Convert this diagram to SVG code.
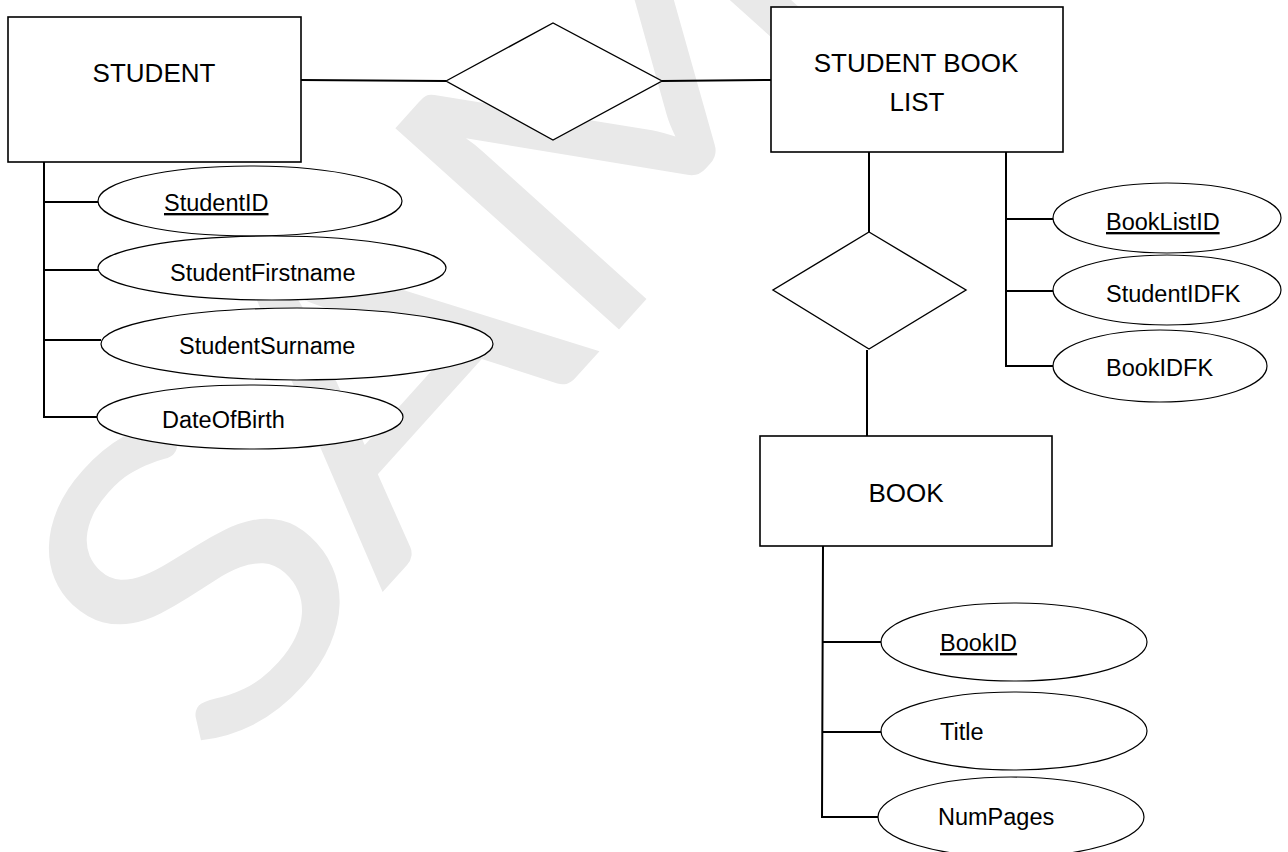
<svg xmlns="http://www.w3.org/2000/svg" width="1288" height="852" viewBox="0 0 1288 852">
<style>
.box{fill:#fff;stroke:#000;stroke-width:1.6}
.dia{fill:#fff;stroke:#000;stroke-width:1.4}
.ell{fill:#fff;stroke:#000;stroke-width:1.2}
.ln{stroke:#000;stroke-width:2;fill:none}
.ttl{font-family:"Liberation Sans",Arial,sans-serif;font-size:26px;fill:#000;text-anchor:middle}
.att{font-family:"Liberation Sans",Arial,sans-serif;font-size:23.5px;fill:#000}
.wm{font-family:Lato,"Open Sans",sans-serif;font-size:420px;fill:#e9e9e9}
</style>
<rect width="1288" height="852" fill="#fff"/>
<g id="watermark" transform="translate(217,776) rotate(-48) scale(1.15,1)">
<text class="wm" x="0 214 484 882 1123 1319" y="0">SAMPLE</text>
</g>
<g id="connectors">
<line class="ln" x1="301" y1="80" x2="446" y2="81"/>
<line class="ln" x1="662" y1="81" x2="771" y2="80"/>
<line class="ln" x1="869" y1="152" x2="869" y2="232"/>
<line class="ln" x1="867" y1="350" x2="867" y2="436"/>
<path class="ln" d="M44 162 V418 M43 202 H98 M43 270 H98 M43 340 H101 M43 417 H97"/>
<path class="ln" d="M1006 152 V367 M1005 219 H1053 M1005 291 H1053 M1005 366 H1053"/>
<path class="ln" d="M823 546 L822 818 M822 642 H881 M822 732 H881 M821 817 H878"/>
</g>
<g id="student">
<rect class="box" x="8" y="17" width="293" height="145"/>
<text class="ttl" x="154" y="82">STUDENT</text>
</g>
<g id="rel1">
<polygon class="dia" points="446,81 553,23 662,81 553,140"/>
</g>
<g id="studentbooklist">
<rect class="box" x="771" y="7" width="292" height="145"/>
<text class="ttl" x="916" y="72">STUDENT BOOK</text>
<text class="ttl" x="917" y="111">LIST</text>
</g>
<g id="rel2">
<polygon class="dia" points="869,232 966,290 869,349 773,290"/>
</g>
<g id="book">
<rect class="box" x="760" y="436" width="292" height="110"/>
<text class="ttl" x="906" y="502">BOOK</text>
</g>
<g id="attr-studentid">
<ellipse class="ell" cx="250" cy="201" rx="152" ry="35"/>
<text class="att" x="164" y="211" text-decoration="underline">StudentID</text>
</g>
<g id="attr-studentfirstname">
<ellipse class="ell" cx="272" cy="268" rx="174" ry="32"/>
<text class="att" x="170" y="281">StudentFirstname</text>
</g>
<g id="attr-studentsurname">
<ellipse class="ell" cx="297" cy="344" rx="196" ry="36"/>
<text class="att" x="179" y="354">StudentSurname</text>
</g>
<g id="attr-dateofbirth">
<ellipse class="ell" cx="250" cy="417" rx="153" ry="32"/>
<text class="att" x="162" y="428">DateOfBirth</text>
</g>
<g id="attr-booklistid">
<ellipse class="ell" cx="1167" cy="218" rx="114" ry="35"/>
<text class="att" x="1106" y="230" text-decoration="underline">BookListID</text>
</g>
<g id="attr-studentidfk">
<ellipse class="ell" cx="1167" cy="290" rx="114" ry="35"/>
<text class="att" x="1106" y="302">StudentIDFK</text>
</g>
<g id="attr-bookidfk">
<ellipse class="ell" cx="1160" cy="366" rx="107" ry="36"/>
<text class="att" x="1106" y="376">BookIDFK</text>
</g>
<g id="attr-bookid">
<ellipse class="ell" cx="1014" cy="642" rx="133" ry="39"/>
<text class="att" x="940" y="651" text-decoration="underline">BookID</text>
</g>
<g id="attr-title">
<ellipse class="ell" cx="1014" cy="731" rx="133" ry="39"/>
<text class="att" x="940" y="740">Title</text>
</g>
<g id="attr-numpages">
<ellipse class="ell" cx="1011" cy="817" rx="133" ry="40"/>
<text class="att" x="938" y="825">NumPages</text>
</g>
</svg>
